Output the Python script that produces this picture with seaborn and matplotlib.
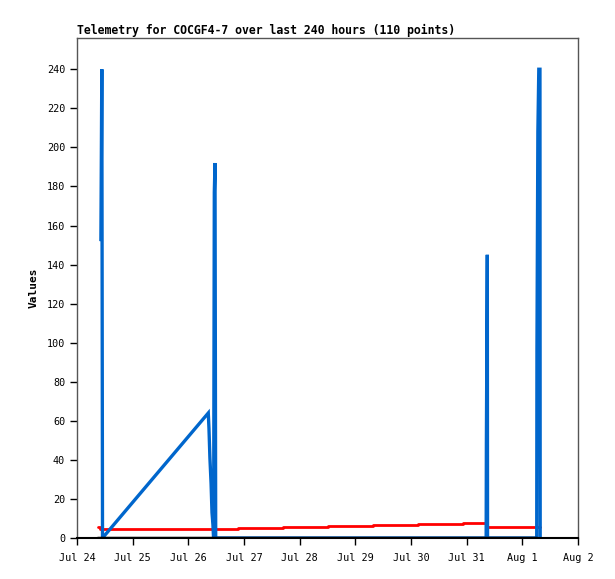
import pandas as pd
import matplotlib
matplotlib.use("Agg")
import matplotlib.pyplot as plt
import matplotlib.dates as mdates
import seaborn as sns

start = pd.Timestamp("2024-07-24 00:00")

# blue series: hours since Jul 24 00:00, values
blue_hours = [10.3, 10.7, 11.0, 56.6, 56.9, 57.3, 57.8, 58.2, 58.6, 58.9, 59.2, 59.5, 59.8,
              176.4, 176.5, 176.9, 177.0, 198.2, 198.3, 198.7, 199.1, 199.6, 199.7]
blue_vals = [152, 240, 0, 64, 56, 41, 28, 13, 7, 0, 177, 192, 0,
             0, 48, 145, 0, 0, 96, 208, 240, 240, 0]

# red series (step)
red_hours = [9.0, 9.8, 69.3, 88.6, 108.0, 127.8, 147.1, 166.5, 176.3, 199.6]
red_vals = [5.8, 4.6, 5.3, 5.8, 6.3, 6.8, 7.3, 7.8, 5.8, 5.8]

# black baseline series
black_hours = [8.6, 198.5]
black_vals = [0, 0]

blue = pd.DataFrame({"time": start + pd.to_timedelta(blue_hours, unit="h"), "value": blue_vals})
red = pd.DataFrame({"time": start + pd.to_timedelta(red_hours, unit="h"), "value": red_vals})
black = pd.DataFrame({"time": start + pd.to_timedelta(black_hours, unit="h"), "value": black_vals})

sns.set_style("ticks")
plt.rcParams["font.family"] = ["DejaVu Sans Mono"]
plt.rcParams["text.color"] = "black"
plt.rcParams["axes.labelcolor"] = "black"
plt.rcParams["xtick.color"] = "black"
plt.rcParams["ytick.color"] = "black"

fig = plt.figure(figsize=(6.15, 5.79), dpi=100)
ax = fig.add_axes([77 / 615, 41 / 579, 501 / 615, 500 / 579])

sns.lineplot(data=red, x="time", y="value", color="#ff0000", linewidth=2, estimator=None,
             drawstyle="steps-post", ax=ax)
sns.lineplot(data=blue, x="time", y="value", color="#0066cc", linewidth=2.4, estimator=None,
             sort=False, solid_capstyle="butt", solid_joinstyle="miter", ax=ax)
sns.lineplot(data=black, x="time", y="value", color="black", linewidth=2.5, estimator=None,
             solid_capstyle="butt", ax=ax)

ax.set_xlim(start, start + pd.Timedelta(days=9))
ax.set_ylim(0, 256)
ax.set_yticks(range(0, 241, 20))
ax.xaxis.set_major_locator(mdates.DayLocator())
ax.xaxis.set_major_formatter(
    plt.FuncFormatter(lambda v, pos: mdates.num2date(v).strftime("%b ") + str(mdates.num2date(v).day)))
ax.tick_params(axis="both", labelsize=7.3, length=5, width=1)
ax.tick_params(axis="x", pad=6)

for side in ["top", "right", "left"]:
    ax.spines[side].set_color("#555555")
    ax.spines[side].set_linewidth(1)
ax.spines["bottom"].set_color("black")
ax.spines["bottom"].set_linewidth(1.5)

ax.set_xlabel("")
ax.set_ylabel("Values", fontsize=8, fontweight="bold", labelpad=6)
ax.set_title("Telemetry for COCGF4-7 over last 240 hours (110 points)", loc="left",
             fontsize=8.3, fontweight="bold", pad=3)

fig.savefig("out.png", dpi=100)
